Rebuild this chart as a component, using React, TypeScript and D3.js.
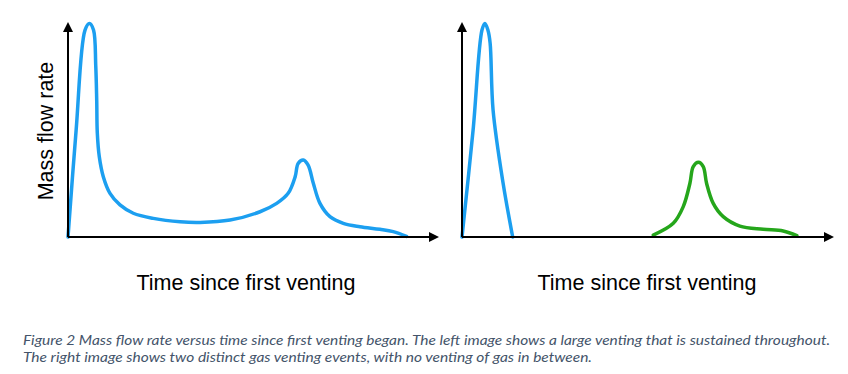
import React from 'react';
import * as d3 from 'd3';

type Pt = [number, number];

// time (0-100) vs mass flow rate (0-100)
const sustainedVent: Pt[] = [
  [0, 0], [2.2, 50], [4.6, 96.7], [5.8, 99.8], [6.9, 96.7], [7.5, 80], [7.76, 64],
  [7.92, 48.6], [8.46, 37.5], [9.54, 28.2], [11.35, 20.4], [14.05, 15], [17.65, 11.1],
  [23.05, 8.7], [30.3, 7.1], [35.7, 6.8], [43.8, 7.9], [51.9, 11.8], [56.4, 15.7],
  [59.5, 20.4], [61.4, 28.2], [62.2, 34.4], [63.6, 36], [64.9, 33.6], [66.3, 25.1],
  [68.1, 15.7], [70.8, 9.5], [74.4, 6.4], [78.9, 4.8], [84.3, 3.6], [87.9, 2.5], [91.5, 0.3],
];

const firstEvent: Pt[] = [
  [0, 0], [3.0, 50], [5.4, 96.7], [6.2, 99.8], [7.0, 96.7], [7.6, 90.6],
  [8.4, 59.3], [11.1, 25.2], [13.7, 0],
];

const secondEvent: Pt[] = [
  [51.7, 0.9], [57.1, 6.4], [59.8, 14.2], [61.6, 25.1], [62.5, 32.9], [63.9, 34.9],
  [65.2, 32.9], [66.1, 25.1], [67.9, 15.7], [70.6, 9.5], [75.1, 5.1], [81.4, 3.6],
  [86.8, 2.8], [90.5, 0.6],
];

const xLabel = 'Time since first venting';
const yLabel = 'Mass flow rate';
const captionLines = [
  'Figure 2 Mass flow rate versus time since first venting began. The left image shows a large venting that is sustained throughout.',
  'The right image shows two distinct gas venting events, with no venting of gas in between.',
];

const BLUE = '#1c9ff0';
const GREEN = '#25a61b';

const W = 848;
const H = 374;

const y = d3.scaleLinear().domain([0, 100]).range([237, 23]);

const Panel: React.FC<{ x0: number; x1: number; series: { data: Pt[]; color: string }[]; labelX: number }> = ({
  x0, x1, series, labelX,
}) => {
  const x = d3.scaleLinear().domain([0, 100]).range([x0, x0 + 370]);
  const line = d3
    .line<Pt>()
    .x((d) => x(d[0]))
    .y((d) => y(d[1]))
    .curve(d3.curveCatmullRom.alpha(0.5));
  const [yBot, yTop] = y.range();
  return (
    <g>
      {series.map((s, i) => (
        <path key={i} d={line(s.data) || ''} fill="none" stroke={s.color} strokeWidth={3.5}
          strokeLinecap="round" strokeLinejoin="round" />
      ))}
      {/* axes */}
      <line x1={x0} y1={yBot} x2={x1 - 8} y2={yBot} stroke="#000" strokeWidth={2} />
      <line x1={x0} y1={yBot} x2={x0} y2={yTop + 8} stroke="#000" strokeWidth={2} />
      <polygon points={`${x1},${yBot} ${x1 - 10},${yBot - 5} ${x1 - 10},${yBot + 5}`} fill="#000" />
      <polygon points={`${x0},${yTop - 1} ${x0 - 5},${yTop + 9} ${x0 + 5},${yTop + 9}`} fill="#000" />
      <text x={labelX} y={290} textAnchor="middle" fontSize={21.5}
        fontFamily="'Liberation Sans', Arial, sans-serif" fill="#000">{xLabel}</text>
    </g>
  );
};

export default function App() {
  return (
    <svg width={W} height={H} style={{ display: 'block', position: 'absolute', left: 0, top: 0 }}>
      <rect width={W} height={H} fill="#fff" />
      <Panel x0={68} x1={439} series={[{ data: sustainedVent, color: BLUE }]} labelX={246} />
      <Panel x0={462} x1={834} series={[{ data: firstEvent, color: BLUE }, { data: secondEvent, color: GREEN }]} labelX={647} />
      <text transform="translate(53,131) rotate(-90)" textAnchor="middle" fontSize={21.5}
        fontFamily="'Liberation Sans', Arial, sans-serif" fill="#000">{yLabel}</text>
      {captionLines.map((t, i) => (
        <text key={i} x={23} y={345 + i * 17} fontSize={14} fontStyle="italic"
          fontFamily="Lato, 'Open Sans', sans-serif" fill="#44546a"
          textLength={i === 0 ? 807 : 569} lengthAdjust="spacingAndGlyphs">{t}</text>
      ))}
    </svg>
  );
}
